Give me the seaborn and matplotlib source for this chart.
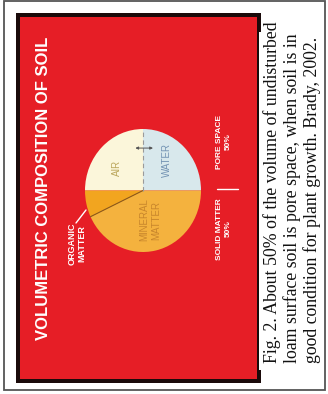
import matplotlib
matplotlib.use("Agg")
import matplotlib.pyplot as plt
from matplotlib.patches import Rectangle
import numpy as np
import seaborn as sns

# ---------------- data ----------------
components = ["WATER", "AIR", "ORGANIC\nMATTER", "MINERAL\nMATTER"]
volume_pct = [25, 25, 7, 43]
component_colors = ["#d8e8ec", "#fbf6da", "#f2a51f", "#f4b23e"]
groups = ["PORE SPACE", "SOLID MATTER"]
group_pct = [50, 50]
title = "VOLUMETRIC COMPOSITION OF SOIL"
caption_lines = [
    "Fig. 2. About 50% of the volume of undisturbed",
    "loam surface soil is pore space, when soil is in",
    "good condition for plant growth. Brady, 2002.",
]

sns.set_theme(style="white")
plt.rcParams["font.family"] = ["Liberation Sans", "DejaVu Sans"]

W, H = 328, 394
fig = plt.figure(figsize=(W / 100, H / 100), dpi=100)
fig.patch.set_facecolor("white")

bg = fig.add_axes([0, 0, 1, 1])
bg.set_xlim(0, W)
bg.set_ylim(H, 0)
bg.axis("off")

# outer border
bg.add_patch(Rectangle((4, 1), 321, 389, facecolor="none", edgecolor="#555555", lw=1.3))
# slide frame
bg.add_patch(Rectangle((16, 13), 245, 370, facecolor="#1a0a0a", edgecolor="none"))
bg.add_patch(Rectangle((20, 17), 237, 362, facecolor="#e61e26", edgecolor="none"))
# caption box
bg.add_patch(Rectangle((259, 32), 64, 338, facecolor="white", edgecolor="none"))

# title
bg.text(44, 188, title, rotation=90, ha="center", va="center", color="white",
        fontsize=12, fontweight="bold")

# outside labels
narrow = ["Liberation Sans Narrow", "Liberation Sans", "DejaVu Sans"]
bg.text(77, 244, components[2], rotation=90, ha="center", va="center", color="white",
        fontsize=6.5, fontweight="bold", family=narrow, linespacing=1.1)
bg.plot([76, 86], [223, 210], color="white", lw=1.0)

bg.text(224, 142, f"{groups[0]}\n{group_pct[0]}%", rotation=90, ha="center", va="center",
        color="white", fontsize=6, fontweight="bold", family=narrow, linespacing=1.3)
bg.text(224, 229, f"{groups[1]}\n{group_pct[1]}%", rotation=90, ha="center", va="center",
        color="white", fontsize=6, fontweight="bold", family=narrow, linespacing=1.3)
bg.plot([217, 238], [189, 189], color="white", lw=1.0)

# caption
for i, line in enumerate(caption_lines):
    bg.text(272 + i * 20, 363, line, rotation=90, rotation_mode="anchor",
            ha="left", va="center", color="#111111", fontsize=12.8,
            family=["Liberation Serif", "DejaVu Serif"])

# pie axes
px0, px1, py0, py1 = 85, 201, 129, 252
ax = fig.add_axes([px0 / W, 1 - py1 / H, (px1 - px0) / W, (py1 - py0) / H])
ax.pie(volume_pct, colors=component_colors, startangle=0, counterclock=True,
       wedgeprops=dict(linewidth=0))
ax.set_aspect("auto")
ax.set_xlim(-1, 1)
ax.set_ylim(-1, 1)
ax.axis("off")
ax.patch.set_alpha(0)

# boundary organic / mineral
ang = np.deg2rad(360 * sum(volume_pct[:3]) / 100)
ax.plot([0, np.cos(ang)], [0, np.sin(ang)], color="#8a5a1a", lw=0.8)
# dashed boundary air / water
ax.plot([0, 0], [0, 1], color="#9a9a9a", lw=0.8, ls=(0, (4, 3)))
# double arrow
ax.annotate("", xy=(0.22, 0.69), xytext=(-0.18, 0.69),
            arrowprops=dict(arrowstyle="<|-|>", color="#555555", lw=0.7,
                            mutation_scale=4))

ax.text(-0.45, 0.37, components[1], rotation=90, ha="center", va="center",
        color="#bba75c", fontsize=7)
ax.text(0.41, 0.50, components[0], rotation=90, ha="center", va="center",
        color="#7393b3", fontsize=7)
ax.text(0.12, -0.48, components[3], rotation=90, ha="center", va="center",
        color="#c8862c", fontsize=7, linespacing=1.3)

fig.savefig("out.png", dpi=100, facecolor="white")
